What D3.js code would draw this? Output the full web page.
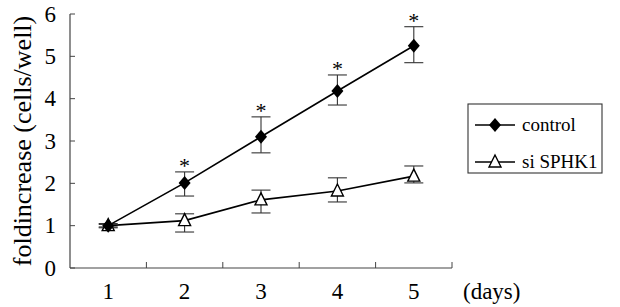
<!DOCTYPE html>
<html>
<head>
<meta charset="utf-8">
<script src="https://cdn.jsdelivr.net/npm/d3@7"></script>
<style>
  body { margin: 0; background: #fff; }
  svg text { font-family: 'Liberation Serif', 'Times New Roman', Times, 'DejaVu Serif', serif; fill: #000; }
</style>
</head>
<body>
<div id="chart"></div>
<script>
const days = ["1", "2", "3", "4", "5"];
const yTicks = [0, 1, 2, 3, 4, 5, 6];
const controlMean = [1.0, 2.01, 3.10, 4.18, 5.25];
const controlLow  = [0.97, 1.70, 2.72, 3.85, 4.85];
const controlHigh = [1.03, 2.27, 3.57, 4.56, 5.70];
const siMean = [1.0, 1.12, 1.61, 1.82, 2.17];
const siLow  = [0.95, 0.85, 1.30, 1.56, 2.01];
const siHigh = [1.05, 1.28, 1.84, 2.13, 2.41];
const starred = [false, true, true, true, true];

const w = 620, h = 307;
const margin = { top: 14, right: 168, bottom: 39, left: 70 };
const serif = "'Liberation Serif', 'Times New Roman', Times, 'DejaVu Serif', serif";

const svg = d3.select("#chart").append("svg")
    .attr("width", w).attr("height", h)
    .attr("viewBox", [0, 0, w, h])
    .attr("font-family", serif);

const x = d3.scaleBand().domain(days).range([margin.left, w - margin.right]).padding(0);
const y = d3.scaleLinear().domain([0, 6]).range([h - margin.bottom, margin.top]);
const cx = d => x(d) + x.bandwidth() / 2;

// axes
const axisColor = "#444";
svg.append("line")
    .attr("x1", margin.left).attr("x2", margin.left)
    .attr("y1", y(6)).attr("y2", y(0))
    .attr("stroke", axisColor).attr("stroke-width", 1.2);
svg.append("line")
    .attr("x1", margin.left).attr("x2", w - margin.right)
    .attr("y1", y(0)).attr("y2", y(0))
    .attr("stroke", axisColor).attr("stroke-width", 1.2);

svg.append("g").selectAll("line")
    .data(yTicks)
    .join("line")
    .attr("x1", margin.left).attr("x2", margin.left + 5)
    .attr("y1", d => y(d)).attr("y2", d => y(d))
    .attr("stroke", axisColor);

svg.append("g").selectAll("text")
    .data(yTicks)
    .join("text")
    .attr("x", 56).attr("y", d => y(d) + 7.5)
    .attr("text-anchor", "end")
    .attr("font-family", serif)
    .attr("font-size", 23)
    .text(d => d);

svg.append("g").selectAll("line")
    .data(days)
    .join("line")
    .attr("x1", d => x(d) + x.bandwidth()).attr("x2", d => x(d) + x.bandwidth())
    .attr("y1", y(0)).attr("y2", y(0) - 6)
    .attr("stroke", axisColor);

svg.append("g").selectAll("text")
    .data(days)
    .join("text")
    .attr("x", d => cx(d)).attr("y", 299)
    .attr("text-anchor", "middle")
    .attr("font-family", serif)
    .attr("font-size", 23)
    .text(d => d);

svg.append("text")
    .attr("x", 463).attr("y", 299)
    .attr("font-family", serif)
    .attr("font-size", 23)
    .text("(days)");

svg.append("text")
    .attr("transform", `translate(31,${(y(0) + y(6)) / 2}) rotate(-90)`)
    .attr("text-anchor", "middle")
    .attr("font-family", serif)
    .attr("font-size", 26)
    .text("foldincrease (cells/well)");

// series
function drawSeries(mean, low, high, marker) {
    const g = svg.append("g");
    g.append("path")
        .datum(days)
        .attr("fill", "none")
        .attr("stroke", "#000")
        .attr("stroke-width", 1.6)
        .attr("d", d3.line().x(d => cx(d)).y((d, i) => y(mean[i])));

    const eb = g.append("g").attr("stroke", "#333").attr("stroke-width", 1.1);
    days.forEach((d, i) => {
        eb.append("line").attr("x1", cx(d)).attr("x2", cx(d))
            .attr("y1", y(low[i])).attr("y2", y(high[i]));
        [low[i], high[i]].forEach(v => {
            eb.append("line").attr("x1", cx(d) - 9.5).attr("x2", cx(d) + 9.5)
                .attr("y1", y(v)).attr("y2", y(v));
        });
    });

    days.forEach((d, i) => marker(g, cx(d), y(mean[i])));
}

function diamond(g, px, py) {
    g.append("path")
        .attr("d", `M${px},${py - 7}L${px + 6},${py}L${px},${py + 7}L${px - 6},${py}Z`)
        .attr("fill", "#000");
}
function triangle(g, px, py) {
    g.append("path")
        .attr("d", `M${px},${py - 7}L${px + 6},${py + 5}L${px - 6},${py + 5}Z`)
        .attr("fill", "#fff").attr("stroke", "#000").attr("stroke-width", 1.4);
}

drawSeries(siMean, siLow, siHigh, triangle);
drawSeries(controlMean, controlLow, controlHigh, diamond);

// significance stars
svg.append("g").selectAll("text")
    .data(days.filter((d, i) => starred[i]))
    .join("text")
    .attr("x", d => cx(d))
    .attr("y", d => y(controlHigh[days.indexOf(d)]) + 1)
    .attr("text-anchor", "middle")
    .attr("font-family", serif)
    .attr("font-size", 22)
    .text("*");

// legend
const legend = svg.append("g");
legend.append("rect")
    .attr("x", 468).attr("y", 104).attr("width", 134).attr("height", 69)
    .attr("fill", "#fff").attr("stroke", "#333").attr("stroke-width", 1.1);
const legendItems = [
    { name: "control", marker: diamond, y: 125 },
    { name: "si SPHK1", marker: triangle, y: 162 }
];
legendItems.forEach(item => {
    legend.append("line")
        .attr("x1", 475).attr("x2", 515)
        .attr("y1", item.y).attr("y2", item.y)
        .attr("stroke", "#000").attr("stroke-width", 1.6);
    item.marker(legend, 495, item.y);
    legend.append("text")
        .attr("x", 522).attr("y", item.y + 6)
        .attr("font-family", serif)
        .attr("font-size", 19)
        .text(item.name);
});
</script>
</body>
</html>
